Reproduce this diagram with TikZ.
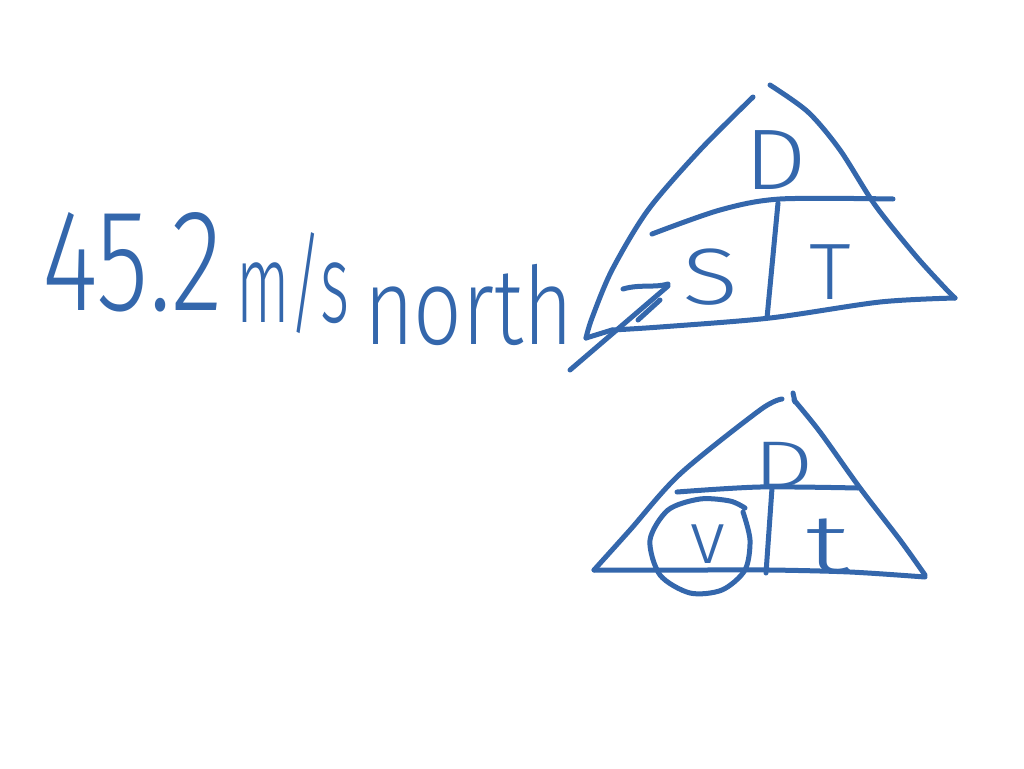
\documentclass[tikz,border=0pt]{standalone}
\usepackage{fontspec}
\newfontfamily\hand{Fira Sans}[UprightFont={* Light}]
\definecolor{ink}{RGB}{52,103,172}
\begin{document}
\begin{tikzpicture}[x=1pt,y=-1pt,
  pen/.style={draw=ink,line width=5pt,line cap=round,line join=round},
  txt/.style={inner sep=0pt,text=ink,font=\hand}]
\useasboundingbox[fill=white] (0,0) rectangle (1024,768);
% ---- handwritten value
\node[txt,anchor=base west,xscale=0.74,font=\hand\fontsize{145}{145}\selectfont] (val) at (42,310) {45.2};
\node[txt,anchor=base west,xscale=0.56,font=\hand\fontsize{112}{112}\selectfont] (unit) at (236,322) {m/s};
\node[txt,anchor=base west,xscale=0.79,font=\hand\fontsize{108}{108}\selectfont] (dir) at (364,344) {north};
% ---- arrow strokes
\coordinate (a1) at (570,370);
\coordinate (a2) at (668,286);
\draw[pen] (a1) -- (a2);
\draw[pen] (623,289) .. controls (640,284) and (655,288) .. (668,284);
\draw[pen] (638,320) -- (660,300);
% ---- top triangle
\draw[pen] plot[smooth] coordinates {(753,97) (700,150) (648,210) (612,270) (592,318) (586,338)};
\draw[pen] (586,338) -- (612,330);
\draw[pen] plot[smooth] coordinates {(770,85) (808,112) (840,150) (875,205) (915,255) (945,288) (955,298)};
\draw[pen] plot[smooth] coordinates {(955,298) (880,302) (770,318) (660,327) (612,330)};
\draw[pen] plot[smooth] coordinates {(652,234) (720,210) (780,199) (893,199)};
\draw[pen] (778,203) -- (767,318);
\node[txt,xscale=1.15,font=\hand\fontsize{86}{86}\selectfont] (D1) at (776,160) {D};
\node[txt,xscale=1.3,font=\hand\fontsize{80}{80}\selectfont] (S1) at (711,277) {S};
\node[txt,xscale=1.05,font=\hand\fontsize{80}{80}\selectfont] (T1) at (830,272) {T};
% ---- bottom triangle
\draw[pen] (793,393) -- (795,402);
\draw[pen] plot[smooth] coordinates {(782,399) (760,410) (680,474) (630,530) (594,570)};
\draw[pen] plot[smooth] coordinates {(794,400) (820,432) (860,488) (900,540) (925,575)};
\draw[pen] plot[smooth] coordinates {(594,570) (700,570) (770,570) (850,572) (925,577)};
\draw[pen] plot[smooth] coordinates {(677,492) (760,487) (858,488)};
\draw[pen] (772,488) -- (766,573);
\node[txt,xscale=1.45,font=\hand\fontsize{66}{66}\selectfont] (D2) at (784,465) {D};
\node[txt,xscale=1.0,font=\hand\fontsize{74}{74}\selectfont] (v2) at (708,544) {v};
\node[txt,xscale=1.6,font=\hand\fontsize{82}{82}\selectfont] (t2) at (828,546) {t};
\draw[pen] plot[smooth] coordinates {(745,508) (730,501) (700,499) (668,510) (650,540) (660,575) (690,593) (722,590) (745,570) (750,540) (743,512)};
\end{tikzpicture}
\end{document}
